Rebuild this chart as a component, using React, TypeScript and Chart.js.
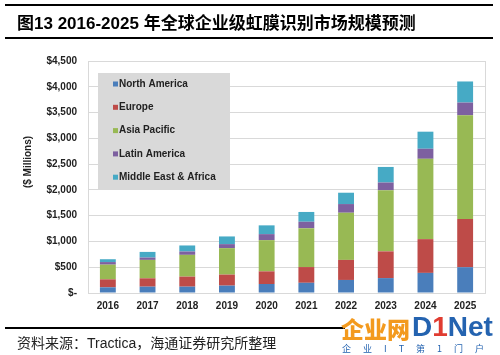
import React, { useEffect, useRef } from "react";
import { Chart, registerables } from "chart.js";

Chart.register(...registerables);

const years = ["2016", "2017", "2018", "2019", "2020", "2021", "2022", "2023", "2024", "2025"];
const northAmerica = [110, 123, 123, 143, 175, 198, 253, 289, 390, 500];
const europe = [155, 162, 195, 214, 245, 305, 389, 519, 655, 935];
const asiaPacific = [285, 357, 422, 513, 605, 752, 915, 1185, 1558, 2012];
const latinAmerica = [50, 45, 65, 78, 117, 127, 168, 150, 195, 247];
const middleEastAfrica = [55, 110, 117, 149, 170, 190, 220, 302, 331, 409];
const seriesNames = ["North America", "Europe", "Asia Pacific", "Latin America", "Middle East & Africa"];
const seriesColors = ["#4a7ebb", "#be4b48", "#98b954", "#7d60a0", "#46aac5"];
const yMax = 4500;
const yStep = 500;

const FONT = '"Liberation Sans", Arial, sans-serif';

const customPlugin = {
  id: "custom",
  afterDraw(chart: any) {
    const ctx = chart.ctx;
    const a = chart.chartArea;
    ctx.save();
    // plot border
    ctx.strokeStyle = "#d9d9d9";
    ctx.lineWidth = 1;
    ctx.strokeRect(Math.round(a.left) + 0.5, Math.round(a.top) + 0.5, Math.round(a.right - a.left), Math.round(a.bottom - a.top));
    // y axis title
    ctx.translate(28, 162);
    ctx.rotate(-Math.PI / 2);
    ctx.fillStyle = "#222";
    ctx.font = `bold 10px ${FONT}`;
    ctx.textAlign = "center";
    ctx.textBaseline = "middle";
    ctx.fillText("($ Millions)", 0, 0);
    ctx.restore();

    // legend box
    ctx.save();
    const bx = 98, by = 73, bw = 132, bh = 117;
    ctx.fillStyle = "#d9d9d9";
    ctx.fillRect(bx, by, bw, bh);
    ctx.font = `bold 10px ${FONT}`;
    ctx.textBaseline = "middle";
    ctx.textAlign = "left";
    chart.data.datasets.forEach((ds: any, i: number) => {
      const cy = 84 + i * 23.3;
      ctx.fillStyle = ds.backgroundColor;
      ctx.fillRect(113, cy - 2.5, 5, 5);
      ctx.fillStyle = "#222";
      ctx.fillText(ds.label, 119, cy);
    });
    ctx.restore();
  },
};

export default function App() {
  const ref = useRef<HTMLCanvasElement>(null);
  useEffect(() => {
    const values = [northAmerica, europe, asiaPacific, latinAmerica, middleEastAfrica];
    const chart = new Chart(ref.current!, {
      type: "bar",
      data: {
        labels: years,
        datasets: values.map((v, i) => ({
          label: seriesNames[i],
          data: v,
          backgroundColor: seriesColors[i],
          borderWidth: 0,
          barPercentage: 0.4,
          categoryPercentage: 1,
        })),
      },
      options: {
        animation: false,
        responsive: false,
        maintainAspectRatio: false,
        layout: { padding: { left: 0, top: 61, right: 15, bottom: 32 } },
        plugins: { legend: { display: false }, tooltip: { enabled: false } },
        scales: {
          x: {
            stacked: true,
            grid: { display: false, drawTicks: false },
            border: { display: false },
            ticks: { color: "#222", font: { family: FONT, size: 10, weight: "bold" }, padding: 7 },
            afterFit: (s: any) => { s.height = 30; },
          },
          y: {
            stacked: true,
            min: 0,
            max: yMax,
            ticks: {
              stepSize: yStep,
              color: "#222",
              font: { family: FONT, size: 10, weight: "bold" },
              padding: 11,
              callback: (v: any) => (v === 0 ? "$-" : "$" + Number(v).toLocaleString("en-US")),
            },
            grid: { color: "#d9d9d9", drawTicks: false },
            border: { display: false },
            afterFit: (s: any) => { s.width = 88; },
          },
        },
      },
      plugins: [customPlugin],
    });
    return () => chart.destroy();
  }, []);

  return (
    <div style={{ position: "fixed", left: 0, top: 0, width: 500, height: 355, background: "#fff", overflow: "hidden" }}>
      <canvas ref={ref} width={500} height={355} style={{ position: "absolute", left: 0, top: 0, width: 500, height: 355 }} />
      <div style={{ position: "absolute", left: 5, top: 4, width: 488, height: 2, background: "#000" }} />
      <div style={{ position: "absolute", left: 17, top: 13, fontFamily: '"Liberation Sans", Arial, "Noto Sans CJK SC", sans-serif', fontWeight: "bold", fontSize: 17, lineHeight: "22px", color: "#000", whiteSpace: "nowrap" }}>
        图13 2016-2025 年全球企业级虹膜识别市场规模预测
      </div>
      <div style={{ position: "absolute", left: 5, top: 37, width: 488, height: 2, background: "#000" }} />
      <div style={{ position: "absolute", left: 5, top: 327, width: 340, height: 1.5, background: "#000" }} />
      <div style={{ position: "absolute", left: 17, top: 335, fontFamily: '"Liberation Sans", Arial, "Noto Sans CJK SC", sans-serif', fontSize: 14, lineHeight: "16px", color: "#222", whiteSpace: "nowrap" }}>
        资料来源：Tractica，海通证券研究所整理
      </div>
      <div style={{ position: "absolute", left: 341, top: 314, fontFamily: '"Noto Sans CJK SC", sans-serif', fontWeight: 900, fontSize: 23, lineHeight: "28px", color: "#f39a1e", whiteSpace: "nowrap" }}>
        企业网
      </div>
      <div style={{ position: "absolute", left: 412, top: 312, fontFamily: '"Liberation Sans", Arial, sans-serif', fontWeight: "bold", fontSize: 28, lineHeight: "30px", color: "#2463b0", whiteSpace: "nowrap" }}>
        D<span style={{ color: "#e03c31" }}>1</span>Net
      </div>
      <div style={{ position: "absolute", left: 342, top: 343, fontFamily: '"Noto Sans CJK SC", sans-serif', fontSize: 9, lineHeight: "11px", color: "#2463b0", letterSpacing: 12, whiteSpace: "nowrap" }}>
        企业IT第1门户
      </div>
    </div>
  );
}
